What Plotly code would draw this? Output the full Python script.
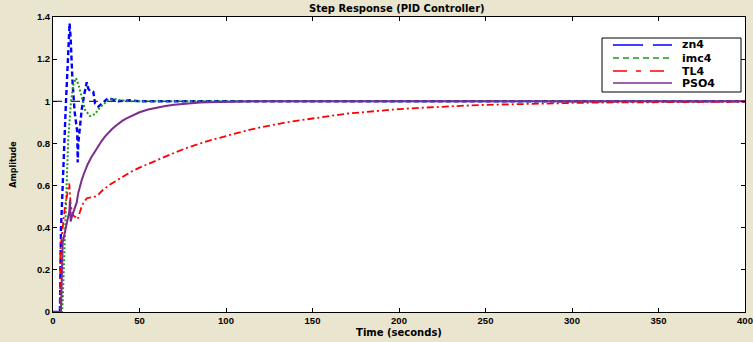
import plotly.graph_objects as go

# ---- data ----
zn4_t = [0, 4, 4.6, 6, 7.5, 9.6, 10.2, 11.3, 12.5, 14.0, 14.3, 14.6, 15.5, 16.6, 18, 19.5, 20.4, 21.4,
         23.3, 24.3, 26.2, 28.2, 32, 33.9, 37.6, 44.5, 50, 400]
zn4_y = [0, 0, 0.39, 0.72, 1.0, 1.37, 1.3, 1.09, 0.95, 0.855, 0.71, 0.80, 0.88, 0.96, 1.03, 1.09, 1.06, 1.05,
         1.045, 0.99, 0.975, 0.99, 1.015, 1.01, 1.0, 1.005, 1.0, 1.0]

imc4_t = [0, 5.3, 5.6, 6.9, 8.3, 8.8, 10.4, 11.8, 13.3, 15, 16.6, 18.5, 21.4, 24.3, 27, 31.8, 36, 42.8, 50, 400]
imc4_y = [0, 0, 0.05, 0.34, 0.66, 0.82, 1.0, 1.08, 1.11, 1.07, 1.02, 0.96, 0.93, 0.94, 0.97, 1.005, 1.01, 1.0,
          1.0, 1.0]

tl4_t = [0, 4, 4.3, 6.9, 8.5, 9.4, 10.2, 11.4, 13.7, 14.3, 15.6, 17, 19.5, 22, 24.3, 26, 28.9, 33, 38.7, 45, 50,
         56, 63, 70, 77, 85, 92, 100, 107, 114, 121, 128, 135, 143, 150, 157, 165, 172, 181, 190, 200, 210, 220,
         230, 240, 250, 262, 275, 287, 300, 315, 330, 345, 360, 380, 400]
tl4_y = [0, 0, 0.3, 0.5, 0.57, 0.61, 0.51, 0.46, 0.446, 0.44, 0.476, 0.51, 0.54, 0.545, 0.547, 0.555, 0.58, 0.605,
         0.635, 0.665, 0.685, 0.707, 0.732, 0.755, 0.778, 0.80, 0.818, 0.835, 0.851, 0.865, 0.878, 0.89, 0.90,
         0.91, 0.919, 0.928, 0.936, 0.943, 0.95, 0.957, 0.963, 0.968, 0.973, 0.977, 0.98, 0.983, 0.986, 0.988,
         0.990, 0.992, 0.994, 0.995, 0.996, 0.997, 0.998, 0.998]

pso4_t = [0, 4.6, 5.6, 7.9, 9.4, 9.8, 10.2, 11, 12.1, 13.7, 14.6, 15.5, 16.6, 17.8, 19, 20, 22, 24, 26, 28, 30,
          32, 34, 36, 38, 40, 42.5, 45, 47.5, 50, 55, 60, 65, 70, 75, 80, 85, 90, 100, 110, 120, 400]
pso4_y = [0, 0, 0.33, 0.41, 0.476, 0.53, 0.43, 0.455, 0.48, 0.52, 0.565, 0.595, 0.626, 0.655, 0.68, 0.70, 0.732,
          0.76, 0.787, 0.81, 0.832, 0.851, 0.867, 0.882, 0.895, 0.907, 0.919, 0.93, 0.94, 0.948, 0.961, 0.971,
          0.978, 0.984, 0.988, 0.991, 0.994, 0.996, 0.998, 0.999, 1.0, 1.0]

ref_t = [0, 400]
ref_y = [1, 1]

series_names = ["zn4", "imc4", "TL4", "PSO4"]
x_ticks = [0, 50, 100, 150, 200, 250, 300, 350, 400]
y_ticks = [0, 0.2, 0.4, 0.6, 0.8, 1, 1.2, 1.4]
y_ticklabels = ["0", "0.2", "0.4", "0.6", "0.8", "1", "1.2", "1.4"]

# ---- styles ----
FONT = "Liberation Sans, Arial, sans-serif"
WIDE = "DejaVu Sans, Verdana, sans-serif"
colors = ["#0000FF", "#1E9A1E", "#FF0000", "#7B2D8E"]
plot_dash = ["5px,3px", "2px,2px", "7px,3px,2px,3px", "solid"]
plot_width = [2.4, 2, 1.8, 2]
legend_dash = ["30px,10px", "6px,4px", "14px,9px,5px,9px", "solid"]

W, H = 753, 342
ML, MR, MT, MB = 53, 8, 17, 30
PW, PH = W - ML - MR, H - MT - MB


def px2paper(px, py):
    return (px - ML) / PW, (H - MB - py) / PH


fig = go.Figure()
fig.add_trace(go.Scatter(x=ref_t, y=ref_y, mode="lines", showlegend=False,
                         line=dict(color="black", width=1, dash="dash"), hoverinfo="skip"))
for name, xs, ys, c, d, w in zip(series_names, [zn4_t, imc4_t, tl4_t, pso4_t], [zn4_y, imc4_y, tl4_y, pso4_y],
                                 colors, plot_dash, plot_width):
    fig.add_trace(go.Scatter(x=xs, y=ys, mode="lines", name=name, showlegend=False,
                             line=dict(color=c, width=w, dash=d)))

# ---- custom legend box (MATLAB style) ----
bx0, by0 = px2paper(602, 92)
bx1, by1 = px2paper(741, 38)
fig.add_shape(type="rect", xref="paper", yref="paper", x0=bx0, y0=by0, x1=bx1, y1=by1,
              line=dict(color="black", width=1), fillcolor="white", layer="above")
rows_py = [45, 58, 71, 83]
for name, c, d, py in zip(series_names, colors, legend_dash, rows_py):
    lx0, ly = px2paper(613, py)
    lx1, _ = px2paper(672, py)
    tx, _ = px2paper(680, py)
    fig.add_shape(type="line", xref="paper", yref="paper", x0=lx0, x1=lx1, y0=ly, y1=ly,
                  line=dict(color=c, width=1.5, dash=d), layer="above")
    fig.add_annotation(xref="paper", yref="paper", x=tx, y=ly, text=name, showarrow=False,
                       xanchor="left", yanchor="middle",
                       font=dict(family=WIDE, size=11, color="black", weight="bold"))

axis_common = dict(showline=True, mirror="ticks", linecolor="black", linewidth=1,
                   ticks="inside", ticklen=4, tickcolor="black", showgrid=False, zeroline=False,
                   ticklabeloverflow="allow", automargin=False,
                   tickfont=dict(family=FONT, size=9.5, color="black", weight="bold"))

fig.update_layout(
    width=W, height=H,
    margin=dict(l=ML, r=MR, t=MT, b=MB, autoexpand=False),
    paper_bgcolor="#E9E5CF", plot_bgcolor="white",
    title=dict(text="Step Response (PID Controller)", x=0.527, xanchor="center", y=0.975, yanchor="middle",
               font=dict(family=WIDE, size=10, color="black", weight="bold")),
    xaxis=dict(range=[0, 400], tickvals=x_ticks,
               title=dict(text="Time (seconds)", standoff=3,
                          font=dict(family=WIDE, size=10, color="black", weight="bold")),
               **axis_common),
    yaxis=dict(range=[0, 1.4], tickvals=y_ticks, ticktext=y_ticklabels,
               title=dict(text="Amplitude", standoff=19,
                          font=dict(family=WIDE, size=8, color="black", weight="bold")),
               **axis_common),
    showlegend=False,
)

fig.write_html("out.html")
